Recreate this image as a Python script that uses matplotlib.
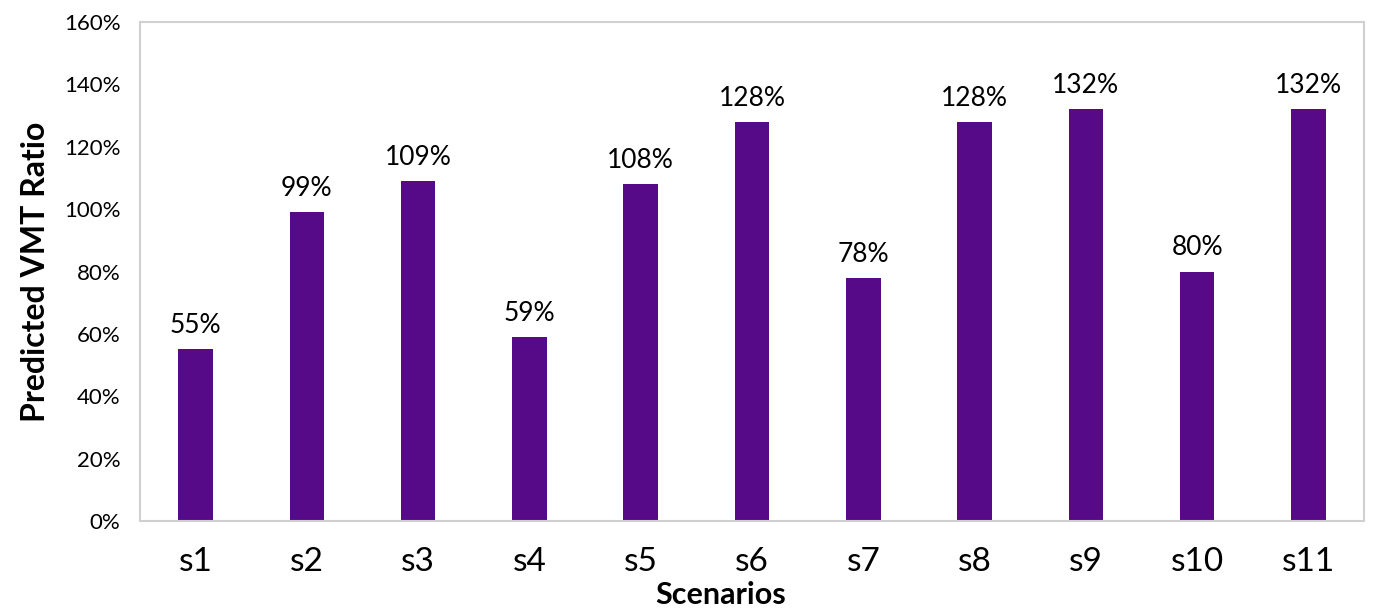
import matplotlib
matplotlib.use("Agg")
from matplotlib import pyplot as plt
from matplotlib.ticker import PercentFormatter
import numpy as np

scenarios = ["s1", "s2", "s3", "s4", "s5", "s6", "s7", "s8", "s9", "s10", "s11"]
vmt_ratio = [55, 99, 109, 59, 108, 128, 78, 128, 132, 80, 132]
y_ticks = [0, 20, 40, 60, 80, 100, 120, 140, 160]

plt.rcParams['font.family'] = ['Lato', 'DejaVu Sans']

fig = plt.figure(figsize=(13.79, 6.08), dpi=100)
ax = fig.add_axes([140 / 1379, 1 - 521 / 608, 1224 / 1379, 499 / 608])

x = np.arange(len(scenarios))
bars = ax.bar(x, vmt_ratio, width=0.31, color="#570A87")

for b, v in zip(bars, vmt_ratio):
    ax.annotate("%d%%" % v, (b.get_x() + b.get_width() / 2, v), xytext=(0, 8),
                textcoords="offset points", ha="center", va="bottom", fontsize=19)

ax.set_xlim(-0.5, len(scenarios) - 0.5)
ax.set_ylim(0, 160)
ax.set_yticks(y_ticks)
ax.yaxis.set_major_formatter(PercentFormatter(decimals=0))
ax.set_xticks(x)
ax.set_xticklabels(scenarios, fontsize=24)
ax.tick_params(axis="y", labelsize=16, length=0, pad=14)
ax.tick_params(axis="x", length=0, pad=19)

for s in ax.spines.values():
    s.set_color("#D0D0D0")
    s.set_linewidth(1.5)

ax.set_xlabel("Scenarios", fontsize=22, fontweight="bold")
ax.xaxis.set_label_coords(0.474, -0.148)
ax.xaxis.label.set_va("center")
ax.set_ylabel("Predicted VMT Ratio", fontsize=23, fontweight="bold", labelpad=10)

fig.savefig("out.png", dpi=100)
